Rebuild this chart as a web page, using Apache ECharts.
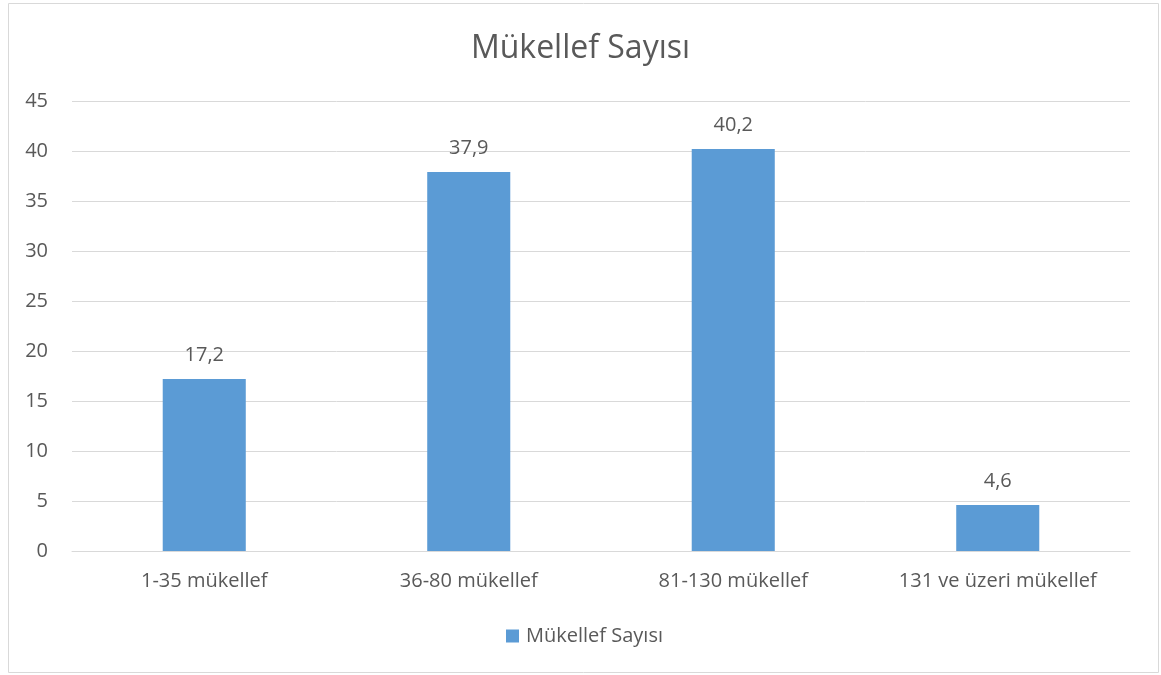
<!DOCTYPE html>
<html>
<head>
<meta charset="utf-8">
<style>
  html, body { margin: 0; padding: 0; background: #ffffff; }
  #chart { width: 1161px; height: 675px; }
</style>
<script src="https://cdn.jsdelivr.net/npm/echarts@6/dist/echarts.min.js"></script>
</head>
<body>
<div id="chart"></div>
<script>
// Data
const categories = ['1-35 mükellef', '36-80 mükellef', '81-130 mükellef', '131 ve üzeri mükellef'];
const seriesName = 'Mükellef Sayısı';
const values = [17.2, 37.9, 40.2, 4.6];

const textColor = '#595959';
const gridColor = '#D9D9D9';
const font = '"Open Sans", "Noto Sans", sans-serif';

const chart = echarts.init(document.getElementById('chart'));
chart.setOption({
  animation: false,
  textStyle: { fontFamily: font },
  graphic: [{
    type: 'rect',
    shape: { x: 8.5, y: 3.5, width: 1150, height: 669 },
    style: { fill: 'none', stroke: gridColor, lineWidth: 1 },
    silent: true
  }],
  title: {
    text: 'Mükellef Sayısı',
    left: 'center',
    top: 28,
    textStyle: { fontFamily: font, fontSize: 32, fontWeight: 'normal', color: textColor }
  },
  legend: {
    top: 626,
    left: 506,
    padding: 0,
    itemWidth: 13,
    itemHeight: 13,
    itemGap: 8,
    icon: 'rect',
    textStyle: { fontFamily: font, fontSize: 20, color: textColor, padding: [0, 0, 0, 2] },
    data: [seriesName]
  },
  grid: { left: 72, right: 31, top: 101, bottom: 124, containLabel: false },
  xAxis: {
    type: 'category',
    data: categories,
    axisLine: { lineStyle: { color: gridColor } },
    axisTick: { show: false },
    axisLabel: { color: textColor, fontSize: 20, margin: 20, fontFamily: font }
  },
  yAxis: {
    type: 'value',
    min: 0,
    max: 45,
    interval: 5,
    axisLine: { show: false },
    axisTick: { show: false },
    splitLine: { lineStyle: { color: gridColor } },
    axisLabel: { color: textColor, fontSize: 20, margin: 24, fontFamily: font }
  },
  series: [{
    name: seriesName,
    type: 'bar',
    data: values,
    barWidth: '31.4%',
    itemStyle: { color: '#5B9BD5' },
    label: {
      show: true,
      position: 'top',
      distance: 14,
      color: textColor,
      fontSize: 20,
      fontFamily: font,
      formatter: p => String(p.value).replace('.', ',')
    }
  }]
});
</script>
</body>
</html>
